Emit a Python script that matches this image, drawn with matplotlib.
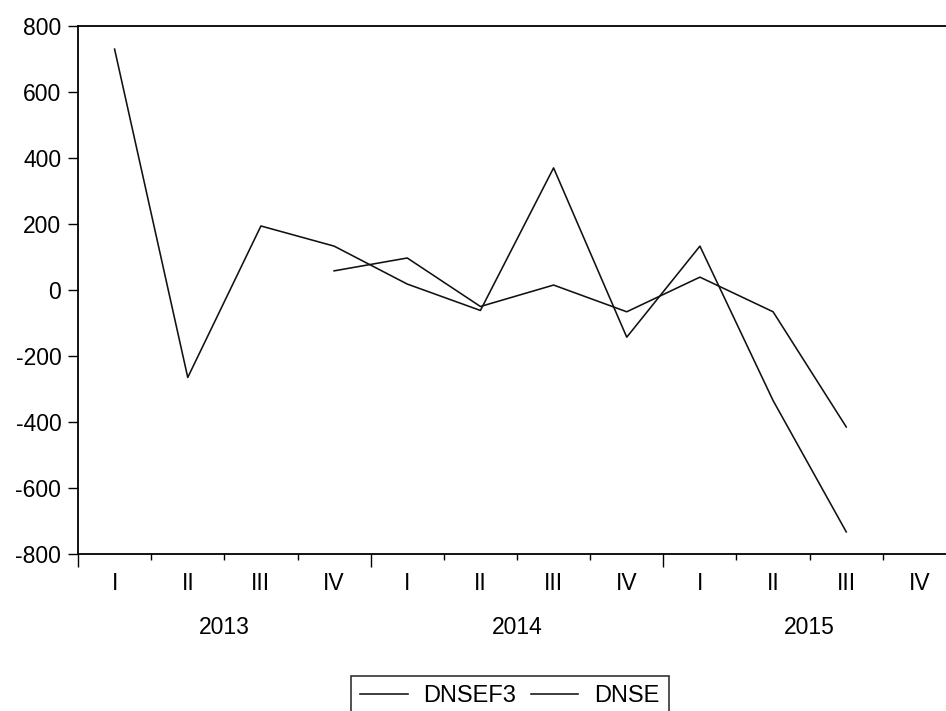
# DNSE and its forecast DNSEF3, quarterly 2013-2015
import numpy as np
import matplotlib.pyplot as plt

plt.rcParams['font.family'] = ['Liberation Sans', 'DejaVu Sans']
plt.rcParams['axes.unicode_minus'] = False

quarters = ["I", "II", "III", "IV"] * 3
years = ["2013", "2014", "2015"]

# DNSE observed from 2013 I, forecast DNSEF3 from 2013 IV
dnse = [730, -265, 194, 133, 18, -62, 370, -143, 133, -335, -733]
dnsef3 = [np.nan, np.nan, np.nan, 58, 97, -50, 15, -66, 39, -66, -415]

fs = 16.5

fig = plt.figure(figsize=(9.46, 7.11), dpi=100)
ax = fig.add_axes([78 / 946, 157 / 711, 878 / 946, 528 / 711])

x = np.arange(len(dnse)) + 0.5
ax.plot(x, dnsef3, color='#111111', lw=1.15, label='DNSEF3')
ax.plot(x, dnse, color='#111111', lw=1.15, label='DNSE')

ax.set_xlim(0, 12)
ax.set_ylim(-800, 800)
ax.set_yticks(np.arange(-800, 801, 200))
ax.tick_params(axis='y', direction='out', length=7, width=1, pad=5, labelsize=fs)

# year boundaries as long ticks, quarters as short ones
ax.set_xticks([0, 4, 8, 12])
ax.set_xticks([i for i in range(12) if i % 4 != 0], minor=True)
ax.tick_params(axis='x', which='major', direction='out', length=9, width=1, labelbottom=False)
ax.tick_params(axis='x', which='minor', direction='out', length=4, width=1)

for sp in ax.spines.values():
    sp.set_linewidth(1.3)

trans = ax.get_xaxis_transform()
for i, q in enumerate(quarters):
    ax.text(i + 0.5, -29 / 528, q, transform=trans, ha='center', va='center', fontsize=fs)
for j, yr in enumerate(years):
    ax.text(4 * j + 2, -74 / 528, yr, transform=trans, ha='center', va='center', fontsize=fs)

leg = fig.legend(loc='upper left', bbox_to_anchor=(351 / 946, 35 / 711), ncol=2,
                 fontsize=17, frameon=True, fancybox=False, edgecolor='black',
                 handlelength=2.0, handletextpad=0.65, columnspacing=0.65,
                 borderpad=0.4, borderaxespad=0)
leg.get_frame().set_linewidth(1.2)

fig.savefig('out.png', dpi=100)
